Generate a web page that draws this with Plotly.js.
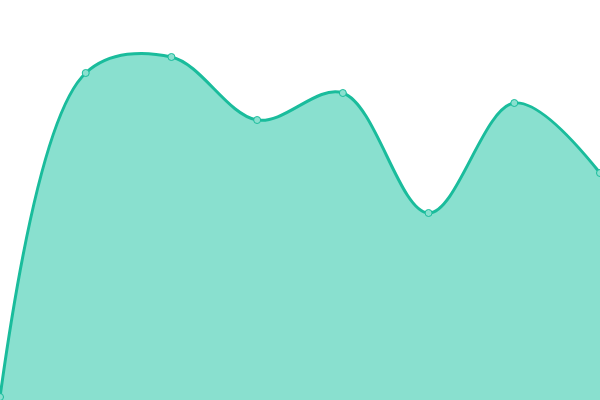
<!DOCTYPE html>
<html>
<head>
<meta charset="utf-8">
<script src="https://cdn.plot.ly/plotly-3.0.1.min.js"></script>
<style>
  html, body { margin: 0; padding: 0; background: #fff; }
  #plotlyDiv { width: 600px; height: 400px; }
</style>
</head>
<body>
<div id="plotlyDiv"></div>
<script>
const xValues = [0, 1, 2, 3, 4, 5, 6, 7]
const yValues = [3, 327, 343, 280, 307, 187, 297, 227]

const data = [{
  x: xValues,
  y: yValues,
  mode: 'lines+markers',
  fill: 'tozeroy',
  fillcolor: '#89e0cf',
  line: { color: '#1abc9c', width: 3, shape: 'spline', smoothing: 1 },
  marker: { size: 7, color: '#8ae0cf', line: { color: '#1abc9c', width: 1 } },
  cliponaxis: false,
  hoverinfo: 'none'
}]

const layout = {
  width: 600,
  height: 400,
  margin: { l: 0, r: 0, t: 0, b: 0 },
  paper_bgcolor: '#fff',
  plot_bgcolor: '#fff',
  showlegend: false,
  xaxis: { range: [0, 7], visible: false, fixedrange: true },
  yaxis: { range: [0, 400], visible: false, fixedrange: true }
}

Plotly.newPlot('plotlyDiv', data, layout, { staticPlot: true, displayModeBar: false })
</script>
</body>
</html>
